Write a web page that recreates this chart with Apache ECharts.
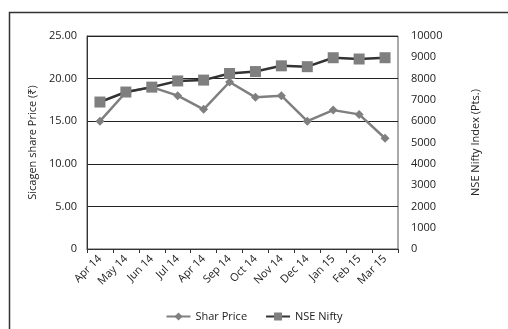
<!DOCTYPE html>
<html>
<head>
<meta charset="utf-8">
<script src="https://cdn.jsdelivr.net/npm/echarts@6/dist/echarts.min.js"></script>
<style>
  html, body { margin: 0; padding: 0; background: #fff; }
  #chart { width: 508px; height: 329px; }
</style>
</head>
<body>
<div id="chart"></div>
<script>
const months = ['Apr 14', 'May 14', 'Jun 14', 'Jul 14', 'Apr 14', 'Sep 14', 'Oct 14', 'Nov 14', 'Dec 14', 'Jan 15', 'Feb 15', 'Mar 15'];
const sharePrice = [15.0, 18.4, 19.0, 18.0, 16.4, 19.6, 17.8, 18.0, 15.0, 16.3, 15.8, 13.0];
const nifty = [6900, 7370, 7600, 7890, 7930, 8240, 8330, 8600, 8560, 8980, 8920, 8980];

const font = '"Open Sans", "Noto Sans", sans-serif';
const chart = echarts.init(document.getElementById('chart'));

chart.setOption({
  animation: false,
  textStyle: { fontFamily: font },
  graphic: [{
    type: 'rect',
    left: 7, top: 10,
    shape: { width: 520, height: 340 },
    style: { fill: 'none', stroke: '#333', lineWidth: 1.5 },
    silent: true
  }],
  grid: { left: 87, right: 110, top: 36, bottom: 80, show: true, borderColor: '#555', borderWidth: 1 },
  legend: {
    bottom: 2,
    left: 'center',
    itemWidth: 24,
    itemHeight: 10,
    itemGap: 18,
    textStyle: { fontSize: 11, color: '#222', fontFamily: font },
    data: ['Shar Price', 'NSE Nifty']
  },
  xAxis: {
    type: 'category',
    data: months,
    boundaryGap: true,
    axisLine: { lineStyle: { color: '#333' } },
    axisTick: { show: true, alignWithLabel: false, length: 4, lineStyle: { color: '#333' } },
    axisLabel: { rotate: 45, fontSize: 11, color: '#222', margin: 8, interval: 0 }
  },
  yAxis: [{
    type: 'value',
    min: 0, max: 25, interval: 5,
    name: 'Sicagen share Price (₹)',
    nameLocation: 'middle',
    nameGap: 48,
    nameRotate: 90,
    nameTextStyle: { fontSize: 11, color: '#222' },
    axisLine: { show: true, lineStyle: { color: '#333' } },
    axisTick: { show: false },
    axisLabel: { fontSize: 11, color: '#222', margin: 10, formatter: v => v === 0 ? '0' : v.toFixed(2) },
    splitLine: { lineStyle: { color: '#222', width: 1 } }
  }, {
    type: 'value',
    min: 0, max: 10000, interval: 1000,
    name: 'NSE Nifty Index (Pts.)',
    nameLocation: 'middle',
    nameGap: 72,
    nameRotate: 90,
    nameTextStyle: { fontSize: 11, color: '#222' },
    axisLine: { show: false },
    axisTick: { show: false },
    axisLabel: { fontSize: 11, color: '#222', margin: 13, formatter: v => String(v) },
    splitLine: { show: false }
  }],
  series: [{
    name: 'Shar Price',
    type: 'line',
    yAxisIndex: 0,
    data: sharePrice,
    symbol: 'diamond',
    symbolSize: 9,
    itemStyle: { color: '#7f7f7f' },
    lineStyle: { color: '#7f7f7f', width: 2.5 }
  }, {
    name: 'NSE Nifty',
    type: 'line',
    yAxisIndex: 1,
    data: nifty,
    symbol: 'rect',
    symbolSize: 11,
    itemStyle: { color: '#7f7f7f' },
    lineStyle: { color: '#333', width: 2.5 },
    z: 3
  }]
});
</script>
</body>
</html>
